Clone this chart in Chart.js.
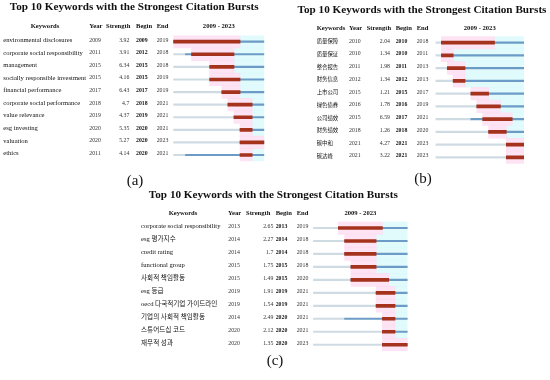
<!DOCTYPE html>
<html>
<head>
<meta charset="utf-8">
<script src="https://cdn.jsdelivr.net/npm/chart.js@4.4.0/dist/chart.umd.min.js"></script>
<style>
  body { margin: 0; width: 550px; height: 380px; background: #fff; position: relative; overflow: hidden; }
  canvas { position: absolute; }
  .lbl { position: absolute; font: 15px "Liberation Serif", serif; color: #111; transform: translate(-50%, -50%); }
</style>
</head>
<body>
<canvas id="chartA" width="275" height="162" style="left:0;top:0"></canvas>
<canvas id="chartB" width="275" height="165" style="left:275px;top:0"></canvas>
<canvas id="chartC" width="290" height="175" style="left:130px;top:180px"></canvas>
<div class="lbl" style="left:135px;top:180px">(a)</div>
<div class="lbl" style="left:423px;top:178px">(b)</div>
<div class="lbl" style="left:275px;top:360px">(c)</div>
<script>
const yearFrom = 2009;
const yearTo = 2023;
const chartTitle = 'Top 10 Keywords with the Strongest Citation Bursts';

// (a)
const aKeywords = ['environmental disclosures', 'corporate social responsibility', 'management',
  'socially responsible investment', 'financial performance', 'corporate social performance',
  'value relevance', 'esg investing', 'valuation', 'ethics'];
const aYear = [2009, 2011, 2015, 2015, 2017, 2018, 2019, 2020, 2020, 2011];
const aStrength = [3.92, 3.91, 6.34, 4.16, 6.43, 4.7, 4.37, 5.35, 5.27, 4.14];
const aBegin = [2009, 2012, 2015, 2015, 2017, 2018, 2019, 2020, 2020, 2020];
const aEnd = [2019, 2018, 2018, 2019, 2019, 2021, 2021, 2021, 2023, 2021];

// (b)
const bKeywords = ['质量保障', '质量保证', '整合报告', '财务信息', '上市公司', '绿色债券', '公司绩效', '财务绩效', '碳中和', '碳达峰'];
const bYear = [2010, 2010, 2011, 2012, 2015, 2016, 2015, 2018, 2021, 2021];
const bStrength = [2.04, 1.34, 1.98, 1.34, 1.21, 1.78, 6.59, 1.26, 4.27, 3.22];
const bBegin = [2010, 2010, 2011, 2012, 2015, 2016, 2017, 2018, 2021, 2021];
const bEnd = [2018, 2011, 2013, 2013, 2017, 2019, 2021, 2020, 2023, 2023];

// (c)
const cKeywords = ['corporate social responsibility', 'esg 평가지수', 'credit rating', 'functional group',
  '사회적 책임활동', 'esg 등급', 'oecd 다국적기업 가이드라인', '기업의 사회적 책임활동', '스튜어드십 코드', '재무적 성과'];
const cYear = [2013, 2014, 2014, 2015, 2015, 2019, 2019, 2014, 2020, 2020];
const cStrength = [2.65, 2.27, 1.7, 1.75, 1.49, 1.91, 1.54, 2.49, 2.12, 1.35];
const cBegin = [2013, 2014, 2014, 2015, 2015, 2019, 2019, 2020, 2020, 2020];
const cEnd = [2019, 2018, 2018, 2018, 2020, 2021, 2021, 2021, 2021, 2023];

const tablePlugin = {
  id: 'burstTable',
  afterDraw(chart, args, o) {
    const ctx = chart.ctx;
    const y = chart.scales.y;
    const area = chart.chartArea;
    ctx.save();
    ctx.fillStyle = '#111';
    ctx.textBaseline = 'middle';
    ctx.textAlign = 'center';
    ctx.font = 'bold 11.2px "Liberation Serif"';
    ctx.fillText(chartTitle, o.titleX, o.titleY);

    ctx.font = 'bold 6.6px "Liberation Serif"';
    o.head.forEach(h => {
      ctx.textAlign = h.align || 'left';
      ctx.fillText(h.t, h.x, o.headY);
    });
    ctx.textAlign = 'center';
    ctx.fillText(yearFrom + ' - ' + yearTo, (area.left + area.right) / 2, o.headY);

    o.keywords.forEach((kw, i) => {
      const py = y.getPixelForValue(i) - 1.5;
      ctx.fillStyle = '#111';
      ctx.textAlign = 'left';
      ctx.font = o.kwFont;
      ctx.fillText(kw, o.cols.kw, py);
      ctx.fillStyle = '#333';
      ctx.font = '5.8px "Liberation Serif"';
      ctx.fillText(String(o.year[i]), o.cols.year, py);
      ctx.fillText(String(o.end[i]), o.cols.end, py);
      ctx.textAlign = 'right';
      ctx.fillText(String(o.strength[i]), o.cols.str, py);
      ctx.textAlign = 'left';
      ctx.fillStyle = '#111';
      ctx.font = 'bold 5.8px "Liberation Serif"';
      ctx.fillText(String(o.begin[i]), o.cols.beg, py);
    });
    ctx.restore();
  }
};

function burstChart(id, g, keywords, year, strength, begin, end) {
  const full = { barPercentage: 1, categoryPercentage: 1, grouped: false };
  new Chart(document.getElementById(id), {
    type: 'bar',
    data: {
      labels: keywords,
      datasets: [
        { data: begin.map((b, i) => [b, end[i] + 1]), backgroundColor: 'rgba(252,215,240,0.7)', order: 5, ...full },
        { data: end.map(e => [e + 1, yearTo + 1]), backgroundColor: 'rgba(212,249,252,0.7)', order: 5, ...full },
        { data: year.map(v => [yearFrom, v]), backgroundColor: '#cfdbe3', barThickness: 1.5, grouped: false, order: 3 },
        { data: year.map(v => [v, yearTo + 1]), backgroundColor: '#6b9bc6', barThickness: 1.5, grouped: false, order: 2 },
        { data: begin.map((b, i) => [b, end[i] + 1]), backgroundColor: '#a4321d', barThickness: 3, grouped: false, order: 1 }
      ]
    },
    options: {
      indexAxis: 'y',
      responsive: false,
      animation: false,
      devicePixelRatio: 1,
      layout: { padding: { left: 0, right: g.pr, top: g.pt, bottom: g.pb } },
      scales: {
        x: { display: false, min: yearFrom, max: yearTo + 1 },
        y: {
          display: true,
          ticks: { display: false },
          grid: { display: false },
          border: { display: false },
          afterFit: s => { s.width = g.yw; }
        }
      },
      plugins: {
        legend: { display: false },
        tooltip: { enabled: false },
        title: { display: false },
        burstTable: {
          keywords, year, strength, begin, end,
          titleX: g.titleX, titleY: g.titleY,
          kwFont: g.kwFont, headY: g.headY, head: g.head, cols: g.cols
        }
      }
    },
    plugins: [tablePlugin]
  });
}

burstChart('chartA', {
  yw: 173.3, pr: 10.7, pt: 35.4, pb: 0.7, titleX: 134.2, titleY: 7.5, headY: 26,
  kwFont: '6.6px "Liberation Serif"',
  head: [{ t: 'Keywords', x: 45, align: 'center' }, { t: 'Year', x: 89.3 }, { t: 'Strength', x: 106 }, { t: 'Begin', x: 136 }, { t: 'End', x: 156.7 }],
  cols: { kw: 3.3, year: 89.3, str: 129.3, beg: 136, end: 156.7 }
}, aKeywords, aYear, aStrength, aBegin, aEnd);

burstChart('chartB', {
  yw: 160.5, pr: 26, pt: 36.3, pb: 1.3, titleX: 147, titleY: 10, headY: 28.3,
  kwFont: '5.4px "Noto Sans CJK SC"',
  head: [{ t: 'Keywords', x: 41.7 }, { t: 'Year', x: 74 }, { t: 'Strength', x: 91.7 }, { t: 'Begin', x: 120.7 }, { t: 'End', x: 141.7 }],
  cols: { kw: 41.7, year: 74, str: 115, beg: 120.7, end: 141.7 }
}, bKeywords, bYear, bStrength, bBegin, bEnd);

burstChart('chartC', {
  yw: 183.1, pr: 12.4, pt: 41.5, pb: 3.8, titleX: 143.3, titleY: 15, headY: 33.3,
  kwFont: '6.6px "Liberation Serif", "Noto Sans CJK KR"',
  head: [{ t: 'Keywords', x: 53, align: 'center' }, { t: 'Year', x: 98 }, { t: 'Strength', x: 116 }, { t: 'Begin', x: 145.7 }, { t: 'End', x: 166.7 }],
  cols: { kw: 11, year: 98.3, str: 143.3, beg: 145.7, end: 166.7 }
}, cKeywords, cYear, cStrength, cBegin, cEnd);
</script>
</body>
</html>
